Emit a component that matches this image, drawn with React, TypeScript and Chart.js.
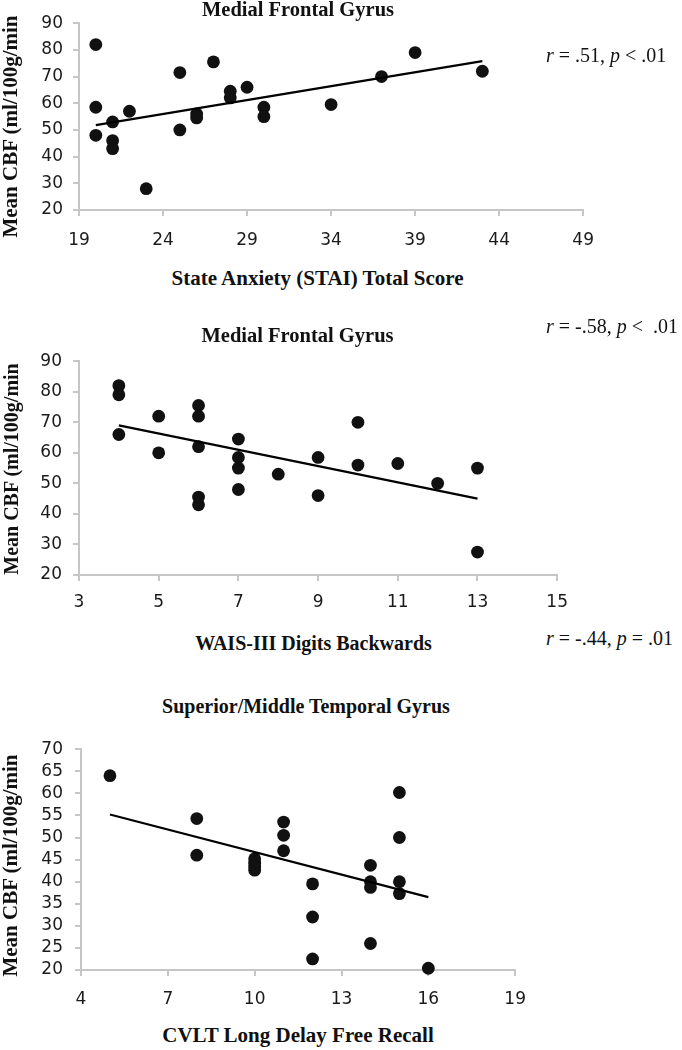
import React, { useEffect, useRef } from 'react';
import { Chart, registerables } from 'chart.js';

Chart.register(...registerables);

// Panel 1: Medial Frontal Gyrus vs State Anxiety
const stateAnxiety = [20, 20, 20, 21, 21, 21, 22, 23, 25, 25, 26, 26, 27, 28, 28, 29, 30, 30, 34, 37, 39, 43];
const cbfAnxiety = [82, 58.5, 48, 53, 46, 43, 57, 28, 71.5, 50, 56, 54.5, 75.5, 64.5, 62, 66, 58.5, 55, 59.5, 70, 79, 72];
const anxietyFitX = [20, 43];
const anxietyFitY = [51.8, 75.8];
const anxietyTicks = [19, 24, 29, 34, 39, 44, 49];

// Panel 2: Medial Frontal Gyrus vs WAIS-III Digits Backwards
const digitsBackwards = [4, 4, 4, 5, 5, 6, 6, 6, 6, 6, 7, 7, 7, 7, 8, 9, 9, 10, 10, 11, 12, 13, 13];
const cbfDigits = [82, 79, 66, 72, 60, 75.5, 72, 62, 45.5, 43, 64.5, 58.5, 55, 48, 53, 58.5, 46, 70, 56, 56.5, 50, 55, 27.5];
const digitsFitX = [4, 13];
const digitsFitY = [69, 45];
const digitsTicks = [3, 5, 7, 9, 11, 13, 15];

// Panel 3: Superior/Middle Temporal Gyrus vs CVLT Long Delay Free Recall
const cvltRecall = [5, 8, 8, 10, 10, 10, 10, 11, 11, 11, 12, 12, 12, 14, 14, 14, 14, 15, 15, 15, 15, 16];
const cbfRecall = [64, 54.3, 46, 45.2, 44.2, 43.3, 42.6, 53.5, 50.5, 47, 39.5, 32, 22.5, 43.7, 40, 38.7, 26, 60.2, 50, 40, 37.3, 20.4];
const recallFitX = [5, 16];
const recallFitY = [55.2, 36.5];
const recallTicks = [4, 7, 10, 13, 16, 19];

const cbfTicks10 = [20, 30, 40, 50, 60, 70, 80, 90];
const cbfTicks5 = [20, 25, 30, 35, 40, 45, 50, 55, 60, 65, 70];

const SERIF = "'Liberation Serif', 'Times New Roman', serif";
const AXIS_GRAY = '#c6c6c6';

type PanelProps = {
  xs: number[];
  ys: number[];
  fitX: number[];
  fitY: number[];
  xTicks: number[];
  yTicks: number[];
  areaLeft: number;
  areaTop: number;
  areaRight: number;
  areaBottom: number;
  xPad: number;
  yPad: number;
};

function Panel(p: PanelProps) {
  const ref = useRef<HTMLCanvasElement | null>(null);
  const padTop = 20;
  const padRight = 20;
  const xHeight = 45;
  const canvasTop = p.areaTop - padTop;
  const width = p.areaRight + padRight;
  const height = p.areaBottom - canvasTop + xHeight;

  useEffect(() => {
    if (!ref.current) return;
    const tickFont = { family: "'DejaVu Sans', sans-serif", size: 17 };
    const chart = new Chart(ref.current, {
      type: 'scatter',
      data: {
        datasets: [
          {
            data: p.fitX.map((x, i) => ({ x, y: p.fitY[i] })),
            showLine: true,
            pointRadius: 0,
            borderColor: '#000',
            borderWidth: 2.2,
            fill: false,
            clip: false,
          } as any,
          {
            data: p.xs.map((x, i) => ({ x, y: p.ys[i] })),
            pointRadius: 6.4,
            pointBackgroundColor: '#111',
            pointBorderWidth: 0,
            borderWidth: 0,
            showLine: false,
            clip: false,
          } as any,
        ],
      },
      options: {
        animation: false,
        responsive: false,
        devicePixelRatio: 1,
        events: [],
        layout: { padding: { left: 0, top: padTop, right: padRight, bottom: 0 } },
        plugins: {
          legend: { display: false },
          tooltip: { enabled: false },
          title: { display: false },
        },
        scales: {
          x: {
            type: 'linear',
            min: p.xTicks[0],
            max: p.xTicks[p.xTicks.length - 1],
            afterBuildTicks: (s: any) => {
              s.ticks = p.xTicks.map((v) => ({ value: v }));
            },
            afterFit: (s: any) => {
              s.height = xHeight;
            },
            grid: { display: true, drawOnChartArea: false, drawTicks: true, tickLength: 6, color: AXIS_GRAY, lineWidth: 2 },
            border: { display: true, color: AXIS_GRAY, width: 2 },
            ticks: { font: tickFont, color: '#1a1a1a', padding: p.xPad, maxRotation: 0, autoSkip: false },
          },
          y: {
            type: 'linear',
            min: p.yTicks[0],
            max: p.yTicks[p.yTicks.length - 1],
            afterBuildTicks: (s: any) => {
              s.ticks = p.yTicks.map((v) => ({ value: v }));
            },
            afterFit: (s: any) => {
              s.width = p.areaLeft;
            },
            grid: { display: true, drawOnChartArea: false, drawTicks: true, tickLength: 6, color: AXIS_GRAY, lineWidth: 2 },
            border: { display: true, color: AXIS_GRAY, width: 2 },
            ticks: { font: tickFont, color: '#1a1a1a', padding: p.yPad, autoSkip: false },
          },
        },
      } as any,
    });
    return () => chart.destroy();
  }, []);

  return (
    <canvas
      ref={ref}
      width={width}
      height={height}
      style={{ position: 'absolute', left: 0, top: canvasTop, width, height }}
    />
  );
}

function Text(props: {
  cx: number;
  top: number;
  size: number;
  bold?: boolean;
  children: React.ReactNode;
}) {
  const w = 420;
  return (
    <div
      style={{
        position: 'absolute',
        left: props.cx - w / 2,
        top: props.top,
        width: w,
        textAlign: 'center',
        fontFamily: SERIF,
        fontSize: props.size,
        lineHeight: `${props.size}px`,
        fontWeight: props.bold ? 'bold' : 'normal',
        whiteSpace: 'pre',
        color: '#111',
      }}
    >
      {props.children}
    </div>
  );
}

function YTitle(props: { cx: number; cy: number; size: number; children: React.ReactNode }) {
  const w = 300;
  const lh = props.size;
  return (
    <div
      style={{
        position: 'absolute',
        left: props.cx - w / 2,
        top: props.cy - lh / 2,
        width: w,
        height: lh,
        lineHeight: `${lh}px`,
        textAlign: 'center',
        fontFamily: SERIF,
        fontSize: props.size,
        fontWeight: 'bold',
        whiteSpace: 'nowrap',
        transform: 'rotate(-90deg)',
        color: '#111',
      }}
    >
      {props.children}
    </div>
  );
}

function Stat(props: { left: number; top: number; children: React.ReactNode }) {
  return (
    <div
      style={{
        position: 'absolute',
        left: props.left,
        top: props.top,
        fontFamily: SERIF,
        fontSize: 20,
        lineHeight: '20px',
        whiteSpace: 'pre',
        color: '#111',
      }}
    >
      {props.children}
    </div>
  );
}

export default function App() {
  return (
    <div style={{ position: 'absolute', left: 0, top: 0, width: 682, height: 1050, background: '#fff', overflow: 'hidden' }}>
      <Panel
        xs={stateAnxiety}
        ys={cbfAnxiety}
        fitX={anxietyFitX}
        fitY={anxietyFitY}
        xTicks={anxietyTicks}
        yTicks={cbfTicks10}
        areaLeft={79}
        areaTop={23}
        areaRight={588}
        areaBottom={210}
        xPad={14}
        yPad={10}
      />
      <Panel
        xs={digitsBackwards}
        ys={cbfDigits}
        fitX={digitsFitX}
        fitY={digitsFitY}
        xTicks={digitsTicks}
        yTicks={cbfTicks10}
        areaLeft={79}
        areaTop={360}
        areaRight={559}
        areaBottom={575}
        xPad={11}
        yPad={11}
      />
      <Panel
        xs={cvltRecall}
        ys={cbfRecall}
        fitX={recallFitX}
        fitY={recallFitY}
        xTicks={recallTicks}
        yTicks={cbfTicks5}
        areaLeft={81}
        areaTop={747}
        areaRight={519}
        areaBottom={970}
        xPad={13}
        yPad={12}
      />

      <Text cx={298} top={-1} size={20.5} bold>Medial Frontal Gyrus</Text>
      <Text cx={317.5} top={268} size={21} bold>State Anxiety (STAI) Total Score</Text>
      <YTitle cx={10} cy={126} size={21}>Mean CBF (ml/100g/min</YTitle>
      <Stat left={546} top={45}>
        <i>r</i> = .51, <i>p</i> &lt; .01
      </Stat>

      <Text cx={297.5} top={325} size={20.5} bold>Medial Frontal Gyrus</Text>
      <Text cx={313.5} top={633} size={20} bold>WAIS-III Digits Backwards</Text>
      <YTitle cx={10.5} cy={469} size={20}>Mean CBF (ml/100g/min</YTitle>
      <Stat left={546} top={316}>
        <i>r</i> = -.58, <i>p</i> {'<  .01'}
      </Stat>

      <Text cx={306} top={696} size={20} bold>Superior/Middle Temporal Gyrus</Text>
      <Text cx={298} top={1025} size={21} bold>CVLT Long Delay Free Recall</Text>
      <YTitle cx={10} cy={865} size={21}>Mean CBF (ml/100g/min</YTitle>
      <Stat left={546} top={628}>
        <i>r</i> = -.44, <i>p</i> = .01
      </Stat>
    </div>
  );
}
